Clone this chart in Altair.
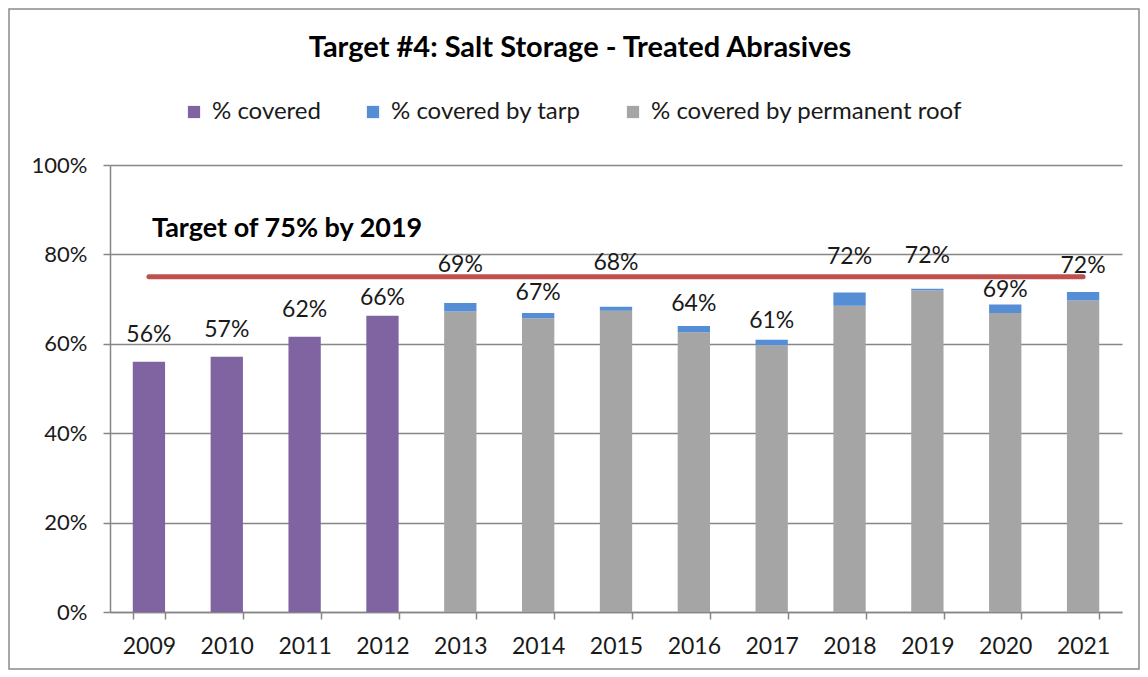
import altair as alt
import pandas as pd

years = [str(y) for y in range(2009, 2022)]
covered = [56.0, 57.1, 61.6, 66.3, None, None, None, None, None, None, None, None, None]
roof = [None, None, None, None, 67.2, 65.7, 67.4, 62.6, 59.7, 68.5, 72.0, 66.9, 69.7]
tarp = [None, None, None, None, 1.9, 1.2, 0.9, 1.4, 1.2, 3.0, 0.3, 1.9, 1.9]
labels = ["56%", "57%", "62%", "66%", "69%", "67%", "68%", "64%", "61%", "72%", "72%", "69%", "72%"]
label_y = [62.0, 63.1, 67.6, 70.2, 77.6, 71.4, 78.0, 69.0, 65.0, 79.4, 79.6, 72.0, 77.4]
series_names = ["% covered", "% covered by tarp", "% covered by permanent roof"]
series_colors = ["#8064A2", "#558ED5", "#A5A5A5"]
target_value = 75
target_text = "Target of 75% by 2019"
target_text_y = 85.7

FONT = "Lato"

rows = []
for i, y in enumerate(years):
    if covered[i] is not None:
        rows.append({"year": y, "series": series_names[0], "value": covered[i], "ord": 0})
    if roof[i] is not None:
        rows.append({"year": y, "series": series_names[2], "value": roof[i], "ord": 0})
    if tarp[i] is not None:
        rows.append({"year": y, "series": series_names[1], "value": tarp[i], "ord": 1})
bars_df = pd.DataFrame(rows)
labels_df = pd.DataFrame({"year": years, "label": labels, "ly": label_y})
target_df = pd.DataFrame({"start": [years[0]], "end": [years[-1]], "t": [target_value],
                          "txt": [target_text], "ty": [target_text_y]})

W, H = 1012, 447

xscale = alt.Scale(domain=years, paddingInner=0.585, paddingOuter=0.2925)
yscale = alt.Scale(domain=[0, 100])

bars = alt.Chart(bars_df).mark_bar().encode(
    x=alt.X("year:N", scale=xscale, sort=years,
            axis=alt.Axis(title=None, labelAngle=0, tickBand="extent", tickSize=7,
                          labelPadding=16, domainColor="#868686", tickColor="#868686",
                          domainWidth=1.5, tickWidth=1.5, labelFontSize=23,
                          labelColor="#1a1a1a", labelFont=FONT)),
    y=alt.Y("value:Q", stack="zero", scale=yscale,
            axis=alt.Axis(title=None, values=[0, 20, 40, 60, 80, 100],
                          labelExpr="datum.value + '%'", tickSize=7, labelPadding=16,
                          domainColor="#868686", tickColor="#868686", gridColor="#868686",
                          gridWidth=1.5, domainWidth=1.5, tickWidth=1.5,
                          labelFontSize=22, labelColor="#1a1a1a", labelFont=FONT)),
    color=alt.Color("series:N", scale=alt.Scale(domain=series_names, range=series_colors),
                    legend=alt.Legend(title=None, orient="none", direction="horizontal",
                                      legendX=72, legendY=-65, symbolType="square",
                                      symbolSize=150, symbolStrokeWidth=0,
                                      labelFontSize=24, labelFont=FONT, labelColor="#1a1a1a",
                                      columnPadding=40, labelOffset=6, labelLimit=500)),
    order=alt.Order("ord:Q"),
)

rule = alt.Chart(target_df).mark_rule(color="#C0504D", strokeWidth=5, strokeCap="round").encode(
    x=alt.X("start:N", scale=xscale), x2="end:N", y=alt.Y("t:Q", scale=yscale))

ttext = alt.Chart(target_df).mark_text(align="left", baseline="middle", fontSize=27,
                                       fontWeight="bold", font=FONT, color="#000000",
                                       dx=3).encode(
    x=alt.X("start:N", scale=xscale), y=alt.Y("ty:Q", scale=yscale), text="txt:N")

vlabels = alt.Chart(labels_df).mark_text(fontSize=23, font=FONT, color="#1a1a1a",
                                         baseline="middle").encode(
    x=alt.X("year:N", scale=xscale, sort=years), y=alt.Y("ly:Q", scale=yscale), text="label:N")

border = alt.Chart(target_df).mark_rect(fill=None, stroke="#8A8A8A", strokeWidth=1.5).encode(
    x=alt.value(-101), x2=alt.value(W + 17), y=alt.value(-156), y2=alt.value(H + 57))

chart = alt.layer(bars, rule, ttext, vlabels, border).properties(
    width=W, height=H,
    title=alt.TitleParams("Target #4: Salt Storage - Treated Abrasives", anchor="middle",
                          fontSize=29, font=FONT, fontWeight="bold", color="#000000",
                          dx=-36, offset=-55),
    autosize=alt.AutoSizeParams(type="none"),
    padding={"left": 102, "top": 157, "right": 18, "bottom": 58},
).configure_view(stroke=None).configure_axisX(grid=False)

chart.save("out.html", embed_options={"renderer": "svg", "actions": False})
